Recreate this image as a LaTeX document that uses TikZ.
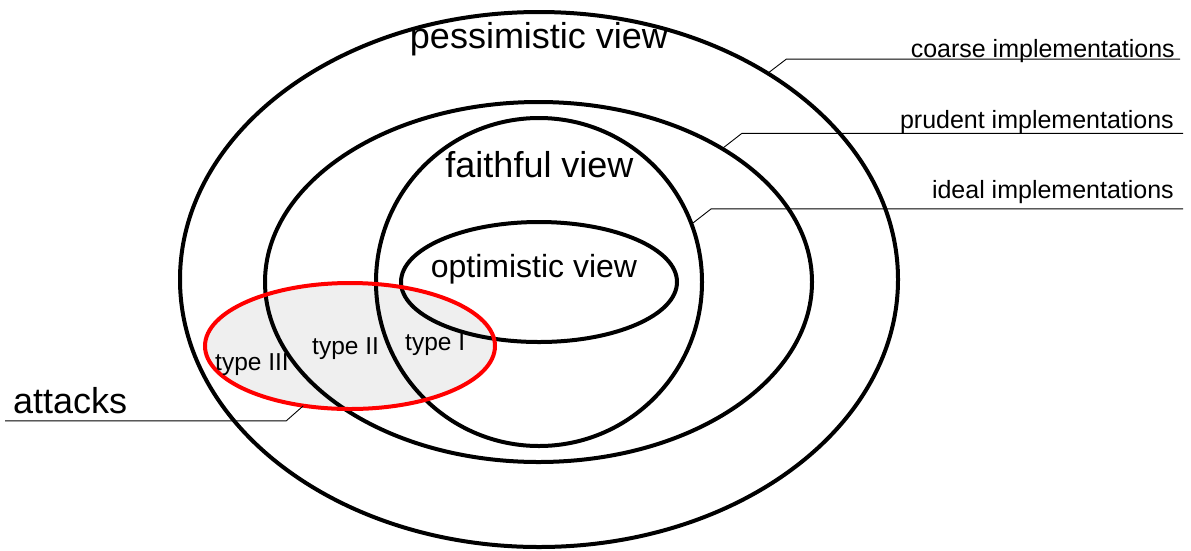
\documentclass[tikz,border=0pt]{standalone}
\usepackage{fontspec}
\setmainfont{Liberation Sans}
\usetikzlibrary{shapes.geometric,calc}
\definecolor{attackgray}{HTML}{EFEFEF}
\definecolor{attackred}{HTML}{FF0000}
\tikzset{
  setell/.style={ellipse, draw=black, line width=4pt, inner sep=0pt},
  leader/.style={draw=black, line width=0.9pt},
  bigtext/.style={inner sep=0pt, font=\fontsize{36}{40}\selectfont},
  midtext/.style={inner sep=0pt, font=\fontsize{32}{36}\selectfont},
  smalltext/.style={inner sep=0pt, font=\fontsize{24.5}{28}\selectfont},
  sidetext/.style={inner sep=0pt, anchor=base east, font=\fontsize{25}{28}\selectfont},
}
\begin{document}
\begin{tikzpicture}[x=1pt,y=-1pt]
\useasboundingbox (0,0) rectangle (1191,550);
% attack fill (under the black sets)
\node[ellipse, fill=attackgray, inner sep=0pt, minimum width=290pt, minimum height=126pt] (atk) at (350,346) {};
% sets
\node[setell, minimum width=718pt, minimum height=535pt] (outer) at (539,279.5) {};
\node[setell, minimum width=547pt, minimum height=360pt] (prudent) at (538.5,282) {};
\node[setell, minimum width=326pt, minimum height=328pt] (faith) at (539,282) {};
\node[setell, minimum width=276pt, minimum height=120pt] (opt) at (539,282) {};
% attack outline
\draw[attackred, line width=4pt] (atk.center) ellipse [x radius=145pt, y radius=63pt];
% texts
\node[bigtext, anchor=base] (pess) at (539,48) {pessimistic view};
\node[bigtext, anchor=base] (faithl) at (539.5,177) {faithful view};
\node[midtext, anchor=base] (optl) at (534,277) {optimistic view};
\node[bigtext, anchor=base west] (attl) at (13,413) {attacks};
\node[smalltext, anchor=base west] (t3) at (215,370) {type III};
\node[smalltext, anchor=base west] (t2) at (312,354) {type II};
\node[smalltext, anchor=base west] (t1) at (405,350) {type I};
\node[sidetext] (coarse) at (1175,57) {coarse implementations};
\node[sidetext] (prud) at (1174,128) {prudent implementations};
\node[sidetext] (ideal) at (1174,198) {ideal implementations};
% leader ends
\coordinate (cEnd) at (1180,62);
\coordinate (pEnd) at (1183,134);
\coordinate (iEnd) at (1183,209);
\coordinate (aEnd) at (5,423);
% leaders
\draw[leader] (outer.42) -- ++(17,-13) coordinate (cb) -- (cb -| cEnd);
\draw[leader] (prudent.36) -- ++(18,-14) coordinate (pb) -- (pb -| pEnd);
\draw[leader] (faith.21) -- ++(18,-14) coordinate (ib) -- (ib -| iEnd);
\draw[leader] (atk.232) -- ++(-17,15) coordinate (ab) -- (ab -| aEnd);
\end{tikzpicture}
\end{document}
